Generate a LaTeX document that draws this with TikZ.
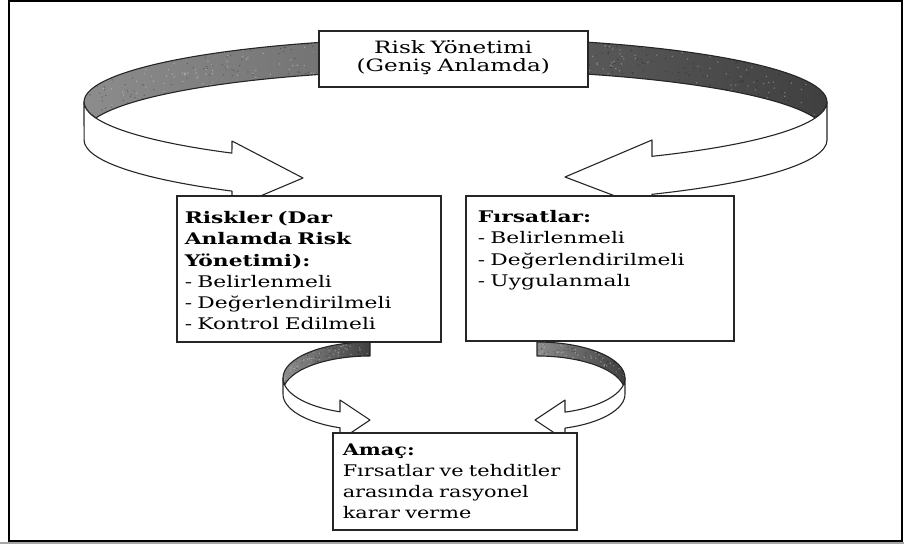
\documentclass[tikz,border=0pt]{standalone}
\usepackage{fontspec}
\setmainfont{DejaVu Serif}[FakeStretch=1.36]
\newfontfamily\goalfont{DejaVu Serif}[FakeStretch=1.3]

% grainy stipple inside a shaded ribbon wall: x0, width, y0, height, count
\newcommand\grainfill[5]{%
  \foreach \k in {1,...,#5}{%
    \fill[white,opacity=.30] ({#1+#2*rnd},{#3+#4*rnd}) circle (0.8);
    \fill[black,opacity=.30] ({#1+#2*rnd},{#3+#4*rnd}) circle (0.7);
  }}

\begin{document}
\begin{tikzpicture}[x=1pt,y=1pt,
  rim/.style={draw=black!85, line width=1.1pt, line join=round},
  band/.style={rim, fill=white},
  wall/.style={rim, left color=black!45, right color=black!75},
  card/.style={rectangle, draw=black!85, line width=1.5pt, fill=white,
    anchor=north west, align=left, inner ysep=0pt,
    font=\fontsize{16}{21.2}\selectfont},
]
\pgfmathsetseed{7}
\useasboundingbox (0,0) rectangle (904,-544);

% outer frame
\draw[line width=2pt] (9,-1) rectangle (902,-540.7);
\fill[black!35] (0,-542) rectangle (904,-544);

% ---- large ribbon: far wall (inside surface) ----
\path[wall, path picture={\grainfill{84}{743}{-136}{100}{700}}]
  (84,-102) arc[start angle=180, end angle=0, x radius=371.5pt, y radius=64pt]
  arc[start angle=0, end angle=-14.48, x radius=371.5pt, y radius=64pt]
  arc[start angle=14.48, end angle=165.52, x radius=371.5pt, y radius=64pt]
  arc[start angle=-165.52, end angle=-180, x radius=371.5pt, y radius=64pt]
  -- cycle;
% near wall, left half, ending in an arrow head
\path[band]
  (84,-102) arc[start angle=180, end angle=233, x radius=371.5pt, y radius=64pt]
  -- (232,-141) -- (303,-178) -- (232,-208) -- (232,-191.1)
  arc[start angle=233, end angle=180, x radius=371.5pt, y radius=64pt]
  -- cycle;
% near wall, right half, ending in an arrow head
\path[band]
  (827,-102) arc[start angle=360, end angle=301.93, x radius=371.5pt, y radius=64pt]
  -- (652,-140) -- (565,-177) -- (652,-210) -- (652,-194.3)
  arc[start angle=301.93, end angle=360, x radius=371.5pt, y radius=64pt]
  -- cycle;

% ---- small ribbon under the left card ----
\path[wall, path picture={\grainfill{283}{87}{-393}{52}{150}}]
  (370,-342) arc[start angle=90, end angle=180, x radius=87pt, y radius=36pt]
  arc[start angle=180, end angle=191.2, x radius=87pt, y radius=36pt]
  arc[start angle=168.8, end angle=90, x radius=87pt, y radius=36pt]
  -- cycle;
\path[band]
  (283,-378) arc[start angle=180, end angle=249.83, x radius=87pt, y radius=36pt]
  -- (340,-400) -- (370,-420) -- (340,-440) -- (340,-427.8)
  arc[start angle=249.83, end angle=180, x radius=87pt, y radius=36pt]
  -- cycle;

% ---- small ribbon under the right card ----
\path[wall, path picture={\grainfill{537}{88}{-393}{52}{150}}]
  (537,-342) arc[start angle=90, end angle=0, x radius=88pt, y radius=36pt]
  arc[start angle=0, end angle=-11.2, x radius=88pt, y radius=36pt]
  arc[start angle=11.2, end angle=90, x radius=88pt, y radius=36pt]
  -- cycle;
\path[band]
  (625,-378) arc[start angle=360, end angle=288.55, x radius=88pt, y radius=36pt]
  -- (565,-400) -- (535,-420) -- (565,-440) -- (565,-428.1)
  arc[start angle=288.55, end angle=360, x radius=88pt, y radius=36pt]
  -- cycle;

% ---- cards ----
\node[card, align=center, text width=269pt, inner xsep=0pt,
      text height=23pt, text depth=33pt,
      font=\fontsize{17}{18}\selectfont] (scopebox) at (318,-30)
  {Risk Yönetimi\\(Geniş Anlamda)};

\node[card, text width=248pt, inner xsep=8pt,
      text height=28pt, text depth=118pt] (risks) at (176,-195)
  {\textbf{Riskler (Dar}\\\textbf{Anlamda Risk}\\\textbf{Yönetimi):}\\
   - Belirlenmeli\\- Değerlendirilmeli\\- Kontrol Edilmeli};

\node[card, text width=244pt, inner xsep=12pt,
      text height=27pt, text depth=118pt] (chances) at (465,-195)
  {\textbf{Fırsatlar:}\\- Belirlenmeli\\- Değerlendirilmeli\\- Uygulanmalı};

\node[card, text width=224pt, inner xsep=10pt,
      text height=23pt, text depth=74pt,
      font=\goalfont\fontsize{16}{21}\selectfont] (goal) at (332,-432)
  {\textbf{Amaç:}\\Fırsatlar ve tehditler\\arasında rasyonel\\karar verme};

\end{tikzpicture}
\end{document}
